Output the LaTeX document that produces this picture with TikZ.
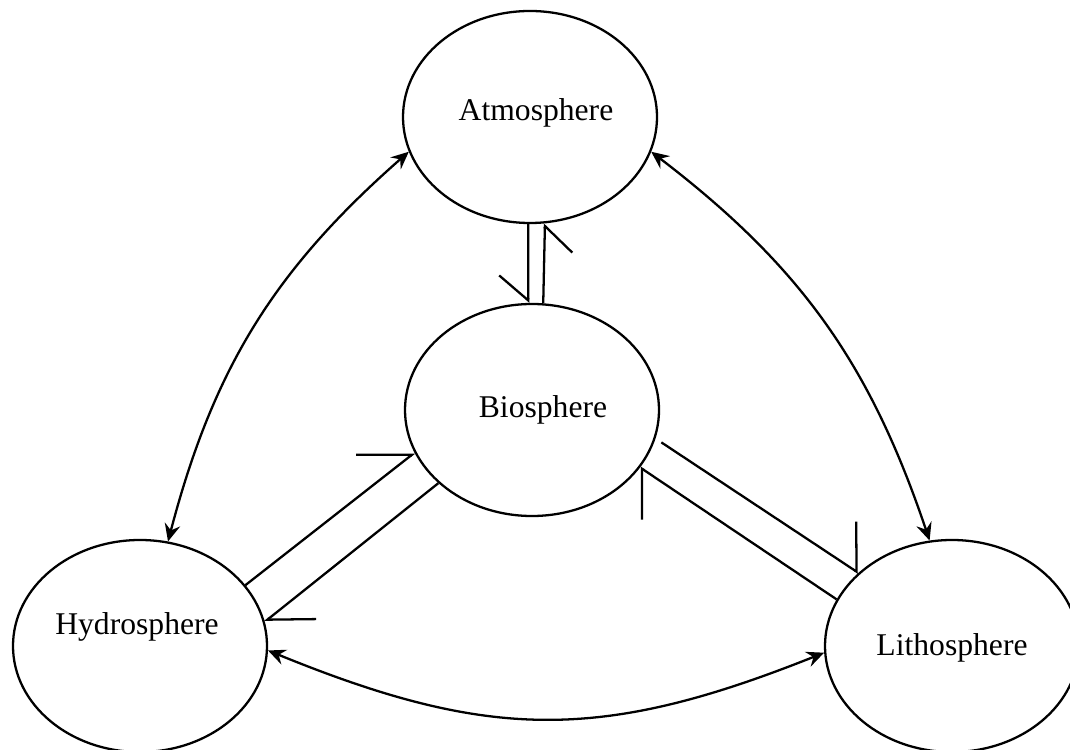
\documentclass[tikz,border=0pt]{standalone}
\usepackage{fontspec}
\setmainfont{Liberation Serif}
\usetikzlibrary{shapes, arrows.meta}

\tikzset{
	sphere/.style={ellipse, draw, line width=1.3pt, minimum width=5.08cm, minimum height=4.24cm, inner sep=0pt},
	spheretext/.style={font=\fontsize{18}{22}\selectfont},
	link/.style={line width=1.3pt, {Stealth[length=10pt,width=9pt,inset=3.5pt]}-{Stealth[length=10pt,width=9pt,inset=3.5pt]}},
	halfl/.style 2 args={line width=1.3pt, -{Straight Barb[left,length=#1,width=#2]}},
	halfr/.style 2 args={line width=1.3pt, -{Straight Barb[right,length=#1,width=#2]}}
}

\begin{document}
\begin{tikzpicture}
	\useasboundingbox (0,0) rectangle (21.4,14.98);
	\node[sphere] (atmos) at (10.6,12.64) {};
	\node[sphere] (bio) at (10.64,6.78) {};
	\node[sphere] (hydro) at (2.8,2.06) {};
	\node[sphere] (litho) at (19.04,2.06) {};
	\node[spheretext] (atmostext) at ([shift={(0.12,0.08)}]atmos) {Atmosphere};
	\node[spheretext] (biotext) at ([shift={(0.22,0)}]bio) {Biosphere};
	\node[spheretext] (hydrotext) at ([shift={(-0.06,0.38)}]hydro) {Hydrosphere};
	\node[spheretext] (lithotext) at ([shift={(0,-0.03)}]litho) {Lithosphere};
	\draw[link] (atmos.196) to[bend right=17] (hydro.75);
	\draw[link] (atmos.344) to[bend left=17] (litho.102);
	\draw[link] (hydro.358) to[bend right=22, looseness=1.1] (litho.183);
	\draw[halfr={0.5cm}{1.16cm}] (atmos.269) -- (bio.92);
	\draw[halfr={0.52cm}{1.12cm}] (bio.84) -- (atmos.278);
	\draw[halfl={0.88cm}{1.38cm}] (hydro.30) -- (bio.200);
	\draw[halfl={0.77cm}{1.2cm}] (bio.218) -- (hydro.11);
	\draw[halfl={0.56cm}{1.66cm}, shorten <=4pt] (bio.347) -- (litho.142);
	\draw[halfl={0.57cm}{1.69cm}] (litho.158) -- (bio.332);
\end{tikzpicture}
\end{document}
